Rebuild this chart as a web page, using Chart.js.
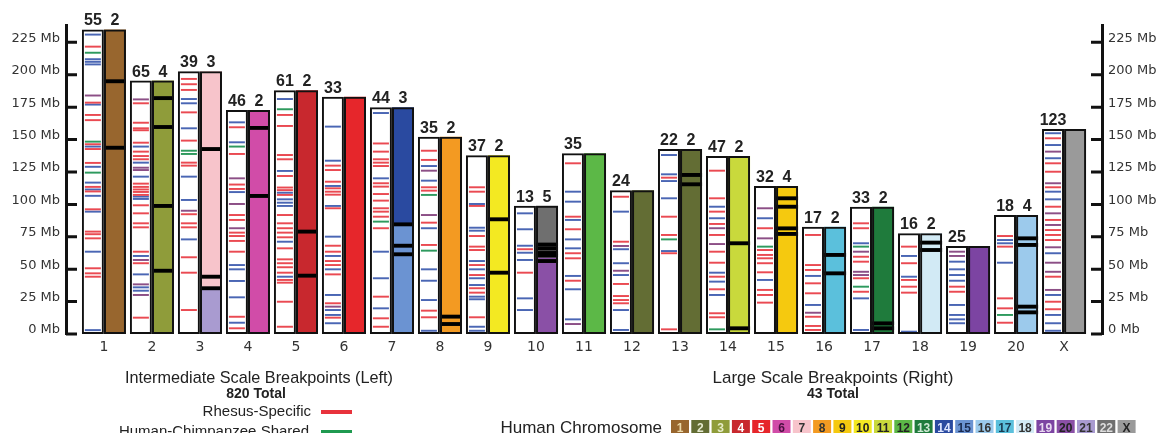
<!DOCTYPE html>
<html lang="en">
<head>
<meta charset="UTF-8">
<title>Rhesus Breakpoints by Chromosome</title>
<script src="https://cdn.jsdelivr.net/npm/chart.js"></script>
<style>
    html, body { margin: 0; padding: 0; background: #fff; }
    .chart-container { position: relative; width: 1159px; height: 433px; }
</style>
</head>
<body>
<div class="chart-container"><canvas id="bp-chart"></canvas></div>
<script>
// rhesus chromosomes along the x axis
const chromosomes = ['1','2','3','4','5','6','7','8','9','10','11','12','13','14','15','16','17','18','19','20','X'];
const lengthsMb = [235, 195.5, 202.7, 172.8, 188, 183, 175, 152.2, 138, 99, 139.4, 111, 142.7, 137.3, 114.2, 82.8, 98.2, 77.7, 67.9, 91.8, 158.2];
const yTicks = [0, 25, 50, 75, 100, 125, 150, 175, 200, 225];

// numbers printed above the two bars
const intermediateCounts = [55, 65, 39, 46, 61, 33, 44, 35, 37, 13, 35, 24, 22, 47, 32, 17, 33, 16, 25, 18, 123];
const largeCounts = [2, 4, 3, 2, 2, null, 3, 2, 2, 5, null, null, 2, 2, 4, 2, 2, 2, null, 4, null];

// large scale breakpoints (Mb), right bar
const largeBreaks = [
    [195, 143.7], [182, 159.7, 98.8, 48.8], [142.7, 44.2, 35.3], [159, 106.5], [79, 45], [],
    [84.6, 68.1, 61.5], [13.4, 7.7], [88.5, 47.3], [69, 66, 62.5, 60.5, 56.3], [], [],
    [122.7, 115.5], [70, 4.4], [104.7, 98.2, 81.5, 77.2], [61, 46.8], [8.2, 4.4], [70.5, 64.8],
    [], [73.8, 68.7, 21.1, 16.7], []
];

// human homology of the right bar: [from Mb, to Mb, human chromosome]
const homologySegments = [
    [[0, 235, '1']], [[0, 195.5, '3']], [[0, 34, '21'], [34, 202.7, '7']], [[0, 172.8, '6']],
    [[0, 188, '4']], [[0, 183, '5']], [[0, 84.6, '15'], [84.6, 175, '14']], [[0, 152.2, '8']],
    [[0, 138, '10']], [[0, 59, '20'], [59, 99, '22']], [[0, 139.4, '12']], [[0, 111, '2']],
    [[0, 142.7, '2']], [[0, 137.3, '11']], [[0, 114.2, '9']], [[0, 82.8, '17']],
    [[0, 98.2, '13']], [[0, 77.7, '18']], [[0, 67.9, '19']], [[0, 91.8, '16']], [[0, 158.2, 'X']]
];

// intermediate breakpoints (Mb), left bar
const rhesusLines = [
    [221.7, 178.5, 169, 165, 146.4, 142.7, 132, 113.5, 110, 96.2, 79, 77, 73.8, 50.7, 46.8, 44.2],
    [178, 163, 158.7, 157.2, 147.6, 140.7, 137.3, 134.8, 116, 113.5, 111.5, 109.6, 107.3, 99.3, 93.1, 85.4, 82.3, 63.5, 54.6, 12.6],
    [196.8, 192.7, 188.3, 171, 149.2, 132.2, 129.9, 92.4, 85.4, 82.3, 59.2, 47.3, 18.5],
    [159.5, 138.9, 115.3, 111.9, 91.8, 88, 78.2, 75.6, 71.8, 63.5, 13.3, 4.4],
    [169, 160.5, 138.1, 134.8, 121.9, 113, 111, 107.3, 91.8, 85.4, 81.6, 78.2, 74.6, 66.1, 57.6, 54.6, 51.5, 47.3, 41.7, 39.6, 24.9, 5.6],
    [129.9, 126.5, 117.5, 112.4, 109.8, 107.5, 97, 68.1, 63.5, 56.3, 53.2, 46, 23.7, 12.6],
    [147, 140.7, 134.8, 132.2, 129.6, 116.3, 113.7, 108, 102.9, 97, 94.4, 90.5, 81.6, 28.8, 12.1, 5.6],
    [141.4, 134.3, 113.2, 110.6, 85.9, 68.7, 18, 12.9],
    [113.2, 109.8, 98.8, 75.6, 67.4, 64.8, 53.2, 45.5, 35.3, 31.9, 12.9],
    [65.4, 47.3],
    [131.7, 90.5, 80.8, 62.3, 58.4, 41.1],
    [105.9, 71.2, 38.6, 29.3, 26.2, 23.7],
    [120.6, 90.5, 76.4, 62.3, 3.6],
    [126, 104.7, 94.4, 84.9, 76.4, 63.5, 55, 44.2, 34.5, 16, 12.9],
    [81.6, 64.8, 61, 58.4, 54.6, 47.6, 34, 30.1, 24.2],
    [76.4, 53.2, 49.4, 39.1, 31.4, 13.3, 6.2, 3.1],
    [85.4, 81.6, 59.6, 55.8, 43, 32.6],
    [67.4, 54.6, 41.7, 36.5, 31.9],
    [36.5, 32.6],
    [75.6, 67.4, 27.5, 19.8, 8.7],
    [151, 131.7, 125.2, 113.2, 98.2, 88, 80.2, 76.4, 72.5, 44.2, 24.9, 19.1]
];
const blueLines = [
    [231, 212, 210, 208, 177, 144.6, 129, 116.8, 111.5, 106.6, 94.4, 63.5, 3],
    [144.6, 132.2, 121.4, 106, 104.2, 60.2, 46, 36, 33.4],
    [181.3, 178, 158.7, 121.4, 103.4, 73],
    [163.3, 147.9, 109.5, 53.2, 49.9, 40.9, 28.3, 8.7],
    [181.3, 125.8, 109, 103.9, 101.3, 98.8, 71.2, 44.2],
    [160, 133.7, 114.2, 98.8, 75.1, 60.2, 49.9, 30.1, 18.5, 14.7, 8.3],
    [170.5, 120.1, 63.5, 43, 19.8],
    [129.6, 118.3, 81.6, 49.9, 41.1, 26.2, 2.5],
    [100.3, 82, 79.7, 56.3, 49.9, 43, 37.8, 28.8, 26.8, 5.6, 2.5],
    [93.1, 80.8, 68.1, 62.7, 57.1, 27.5, 18.5],
    [109.8, 102.1, 88, 73, 66.1, 44.8, 34.5, 11.3],
    [94.4, 65.4, 54.6, 45.5, 18.5, 3.1],
    [138.1, 123.2, 118, 104.7, 64],
    [98.2, 89.3, 47.3, 40.4, 30.1],
    [89.3, 41.7],
    [44.8, 22.4],
    [70, 27.5, 3.1],
    [60.2, 44.2, 1.8],
    [55.8, 49.9, 45.5, 41.1, 22.4, 14.7, 11.3, 8.3],
    [72.5, 70, 55],
    [154.9, 145.8, 135.6, 109.8, 103.9, 62.3, 30.1, 14.7, 8.3, 2.5]
];
const sharedLines = [
    [217, 148.4, 124.5], [], [141.4, 138.9], [144.6], [173.4], [], [86.7], [107.3, 64.3], [], [], [],
    [], [73], [3.6], [67.4], [], [67.4, 36.5], [], [], [14.7], []
];
const mixedLines = [
    [184], [181, 128.3, 126.5, 57.1, 38.3, 30.1], [95.1], [120.1, 100.3, 81.6], [], [21.1], [],
    [126, 91.8], [], [], [7.7], [67.9, 48.8], [], [81.6, 69.4], [97, 73.8], [16.4], [63.5, 48, 45.5],
    [], [63.5, 60.2], [], [140.7, 116.3, 93.1, 84.1, 66.9, 55, 48, 34]
];

// human chromosome colour key
const humanChromosomes = ['1','2','3','4','5','6','7','8','9','10','11','12','13','14','15','16','17','18','19','20','21','22','X'];
const humanColors = ['#98662e','#636d34','#8f9c3a','#c8282e','#e6262b','#d14ca8','#f7c4cb','#f39a22','#f5c90f','#f3e922',
    '#c9d93c','#5cb847','#1f7b3c','#2a4aa0','#6b93d2','#9ccaec','#5bc0dc','#d2eaf5','#7c44a2','#8a50a6','#a99bd0','#6f6f6f','#9a9a9a'];
const humanLabelColors = ['#ecd9a8','#e6ead0','#e6ecc8','#fff','#fff','#4a1040','#333','#333','#222','#222',
    '#222','#222','#cfe8d4','#dfe6ff','#1a2a50','#333','#1a3a50','#333','#e8d8f0','#222','#333','#ddd','#222'];

const LEFT = -0.23, RIGHT = 0.23;

function lineBars(lists, half) {
    const pts = [];
    lists.forEach((list, i) => list.forEach(mb => pts.push({ x: i + LEFT, y: [mb - half, mb + half] })));
    return pts;
}

const segPoints = [], segColors = [];
homologySegments.forEach((segs, i) => segs.forEach(s => {
    segPoints.push({ x: i + RIGHT, y: [s[0], s[1]] });
    segColors.push(humanColors[humanChromosomes.indexOf(s[2])]);
}));

const blackPoints = [];
largeBreaks.forEach((list, i) => list.forEach(mb => blackPoints.push({ x: i + RIGHT, y: [mb - 1.5, mb + 1.5] })));

const outlinePoints = [];
lengthsMb.forEach((len, i) => {
    outlinePoints.push({ x: i + LEFT, y: [0, len] });
    outlinePoints.push({ x: i + RIGHT, y: [0, len] });
});

const barBase = { grouped: false, borderSkipped: false, inflateAmount: 0 };

const innerTicks = {
    id: 'innerTicks',
    afterDraw(chart) {
        const { ctx, chartArea } = chart;
        const y = chart.scales.y;
        ctx.save();
        ctx.strokeStyle = '#111';
        ctx.lineWidth = 3;
        yTicks.forEach(v => {
            const py = y.getPixelForValue(v);
            ctx.beginPath();
            ctx.moveTo(chartArea.left, py); ctx.lineTo(chartArea.left + 11, py);
            ctx.moveTo(chartArea.right - 11, py); ctx.lineTo(chartArea.right, py);
            ctx.stroke();
        });
        ctx.restore();
    }
};

const countLabels = {
    id: 'countLabels',
    afterDatasetsDraw(chart) {
        const { ctx } = chart;
        const x = chart.scales.x, y = chart.scales.y;
        ctx.save();
        ctx.font = 'bold 16px "Liberation Sans", Arial, sans-serif';
        ctx.fillStyle = '#222';
        ctx.textAlign = 'center';
        ctx.textBaseline = 'alphabetic';
        chromosomes.forEach((c, i) => {
            const py = y.getPixelForValue(lengthsMb[i]) - 4;
            ctx.fillText(String(intermediateCounts[i]), x.getPixelForValue(i + LEFT), py);
            if (largeCounts[i]) ctx.fillText(String(largeCounts[i]), x.getPixelForValue(i + RIGHT), py);
        });
        ctx.restore();
    }
};

// titles and keys under the axis
const footer = {
    id: 'footer',
    afterDraw(chart) {
        const ctx = chart.ctx;
        ctx.save();
        ctx.fillStyle = '#222';
        ctx.textBaseline = 'middle';
        ctx.textAlign = 'center';
        ctx.font = '17px "Liberation Sans", Arial, sans-serif';
        ctx.fillText('Intermediate Scale Breakpoints (Left)', 259, 378, 268);
        ctx.fillText('Large Scale Breakpoints (Right)', 833, 378, 266);
        ctx.font = 'bold 14px "Liberation Sans", Arial, sans-serif';
        ctx.fillText('820 Total', 256, 394);
        ctx.fillText('43 Total', 833, 394);

        ctx.textAlign = 'right';
        ctx.font = '15px "Liberation Sans", Arial, sans-serif';
        ctx.fillText('Rhesus-Specific', 311, 412);
        ctx.fillText('Human-Chimpanzee Shared', 309, 432);
        ctx.fillStyle = '#e8323c';
        ctx.fillRect(321, 410, 31, 4);
        ctx.fillStyle = '#1f9a50';
        ctx.fillRect(321, 430, 31, 4);

        ctx.fillStyle = '#222';
        ctx.font = '17px "Liberation Sans", Arial, sans-serif';
        ctx.fillText('Human Chromosome', 662, 428);
        ctx.textAlign = 'center';
        ctx.font = 'bold 12px "Liberation Sans", Arial, sans-serif';
        humanChromosomes.forEach((h, k) => {
            const bx = 671 + 20.3 * k;
            ctx.fillStyle = humanColors[k];
            ctx.fillRect(bx, 420, 18, 18);
            ctx.fillStyle = humanLabelColors[k];
            ctx.fillText(h, bx + 9, 428.5);
        });
        ctx.restore();
    }
};

const yAxis = (position, width) => ({
    position: position,
    min: 0,
    max: 238.4,
    afterFit: s => { s.width = width; },
    grid: { display: false, drawTicks: false },
    border: { display: true, color: '#111', width: 3 },
    afterBuildTicks: s => { s.ticks = yTicks.map(v => ({ value: v })); },
    ticks: {
        callback: v => v + ' Mb',
        color: '#333',
        padding: 6,
        labelOffset: -4,
        font: { family: 'DejaVu Sans', size: 13 }
    }
});

new Chart(document.getElementById('bp-chart'), {
    type: 'bar',
    data: {
        datasets: [
            Object.assign({ label: 'outline', data: outlinePoints, backgroundColor: 'rgba(0,0,0,0)',
                borderColor: '#111', borderWidth: 2, barThickness: 22, order: 1 }, barBase),
            Object.assign({ label: 'large', data: blackPoints, backgroundColor: '#000',
                barThickness: 22, order: 2 }, barBase),
            Object.assign({ label: 'rhesus', data: lineBars(rhesusLines, 0.75), backgroundColor: '#ea4a52',
                barThickness: 16, order: 3 }, barBase),
            Object.assign({ label: 'other', data: lineBars(blueLines, 0.75), backgroundColor: '#4a66b4',
                barThickness: 16, order: 3 }, barBase),
            Object.assign({ label: 'shared', data: lineBars(sharedLines, 0.75), backgroundColor: '#2e9a5e',
                barThickness: 16, order: 3 }, barBase),
            Object.assign({ label: 'mixed', data: lineBars(mixedLines, 0.75), backgroundColor: '#8c4f86',
                barThickness: 16, order: 3 }, barBase),
            Object.assign({ label: 'homology', data: segPoints, backgroundColor: segColors,
                barThickness: 22, order: 5 }, barBase),
            Object.assign({ label: 'fill', data: lengthsMb.map((len, i) => ({ x: i + LEFT, y: [0, len] })),
                backgroundColor: '#fff', barThickness: 22, order: 5 }, barBase)
        ]
    },
    options: {
        responsive: true,
        maintainAspectRatio: false,
        animation: false,
        layout: { padding: { top: 25 } },
        plugins: { legend: { display: false }, tooltip: { enabled: false } },
        scales: {
            x: {
                type: 'linear',
                offset: false,
                min: -0.79,
                max: 20.79,
                grid: { display: false, offset: false, drawTicks: false },
                border: { display: false },
                afterBuildTicks: s => { s.ticks = chromosomes.map((c, i) => ({ value: i })); },
                afterFit: s => { s.height = 99; },
                ticks: {
                    callback: v => chromosomes[v],
                    autoSkip: false,
                    maxRotation: 0,
                    padding: 5,
                    color: '#333',
                    font: { family: 'DejaVu Sans', size: 14 }
                }
            },
            y: yAxis('left', 66),
            y2: yAxis('right', 57)
        }
    },
    plugins: [innerTicks, countLabels, footer]
});
</script>
</body>
</html>
